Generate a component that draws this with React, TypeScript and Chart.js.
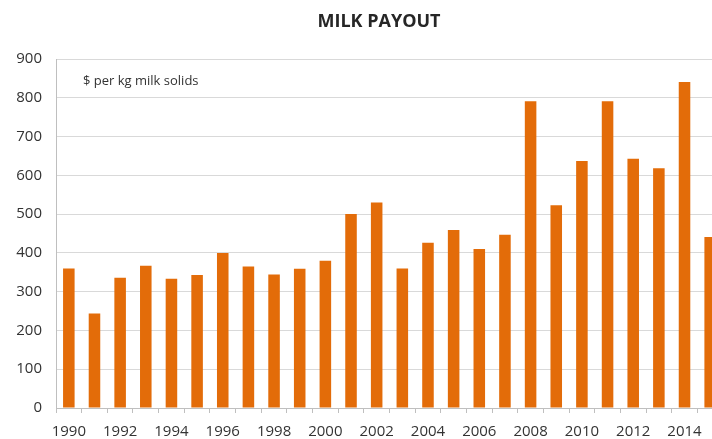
import { useEffect, useRef } from "react";
import { Chart, registerables, Plugin } from "chart.js";

Chart.register(...registerables);

const years = [
  "1990", "1991", "1992", "1993", "1994", "1995", "1996", "1997", "1998", "1999",
  "2000", "2001", "2002", "2003", "2004", "2005", "2006", "2007", "2008", "2009",
  "2010", "2011", "2012", "2013", "2014", "2015",
];

const payout = [
  360, 244, 336, 367, 333, 343, 400, 365, 344, 359,
  380, 500, 530, 360, 426, 459, 410, 447, 791, 523,
  637, 791, 643, 618, 841, 441,
];

const chartTitle = "MILK PAYOUT";
const unitNote = "$ per kg milk solids";

const FONT = "'Open Sans', sans-serif";

// title and the little unit note inside the plot
const textPlugin: Plugin<"bar"> = {
  id: "textOverlay",
  afterDraw(chart) {
    const { ctx, chartArea } = chart;
    ctx.save();
    ctx.fillStyle = "#262626";
    ctx.font = `bold 18px ${FONT}`;
    ctx.textAlign = "center";
    ctx.textBaseline = "middle";
    ctx.fillText(chartTitle, 379, 22);

    ctx.fillStyle = "#333333";
    ctx.font = `13px ${FONT}`;
    ctx.textAlign = "left";
    ctx.fillText(unitNote, chartArea.left + 27, 81);
    ctx.restore();
  },
};

export default function App() {
  const chartRef = useRef<HTMLCanvasElement>(null);
  const chartInstance = useRef<Chart | null>(null);

  useEffect(() => {
    if (!chartRef.current) return;
    if (chartInstance.current) chartInstance.current.destroy();

    const ctx = chartRef.current.getContext("2d");
    if (!ctx) return;

    chartInstance.current = new Chart(ctx, {
      type: "bar",
      data: {
        labels: years,
        datasets: [
          {
            label: "Milk payout",
            data: payout,
            backgroundColor: "#E36C09",
            barPercentage: 0.45,
            categoryPercentage: 1,
          },
        ],
      },
      options: {
        responsive: false,
        animation: false,
        layout: { padding: { top: 59, right: 35, left: 0, bottom: 0 } },
        plugins: {
          legend: { display: false },
          title: { display: false },
          tooltip: { enabled: false },
        },
        scales: {
          x: {
            grid: {
              display: true,
              drawOnChartArea: false,
              drawTicks: true,
              tickLength: 5,
              color: "#BFBFBF",
              offset: true,
            },
            border: { display: true, color: "#BFBFBF" },
            ticks: {
              autoSkip: false,
              maxRotation: 0,
              minRotation: 0,
              padding: 10,
              color: "#333333",
              font: { family: FONT, size: 15 },
              callback: (_v, i) => (i % 2 === 0 ? years[i] : ""),
            },
            afterFit: (scale) => {
              scale.height = 31;
            },
          },
          y: {
            min: 0,
            max: 900,
            grid: { color: "#D9D9D9", drawTicks: false },
            border: { display: true, color: "#BFBFBF" },
            ticks: {
              stepSize: 100,
              padding: 14,
              color: "#333333",
              font: { family: FONT, size: 15 },
            },
            afterFit: (scale) => {
              scale.width = 56;
            },
          },
        },
      },
      plugins: [textPlugin],
    });

    return () => {
      if (chartInstance.current) {
        chartInstance.current.destroy();
        chartInstance.current = null;
      }
    };
  }, []);

  return (
    <div
      style={{
        position: "fixed",
        left: 0,
        top: 0,
        width: 712,
        height: 439,
        overflow: "hidden",
        background: "#fff",
      }}
    >
      <canvas ref={chartRef} width={758} height={439} style={{ width: 758, height: 439 }} />
    </div>
  );
}
